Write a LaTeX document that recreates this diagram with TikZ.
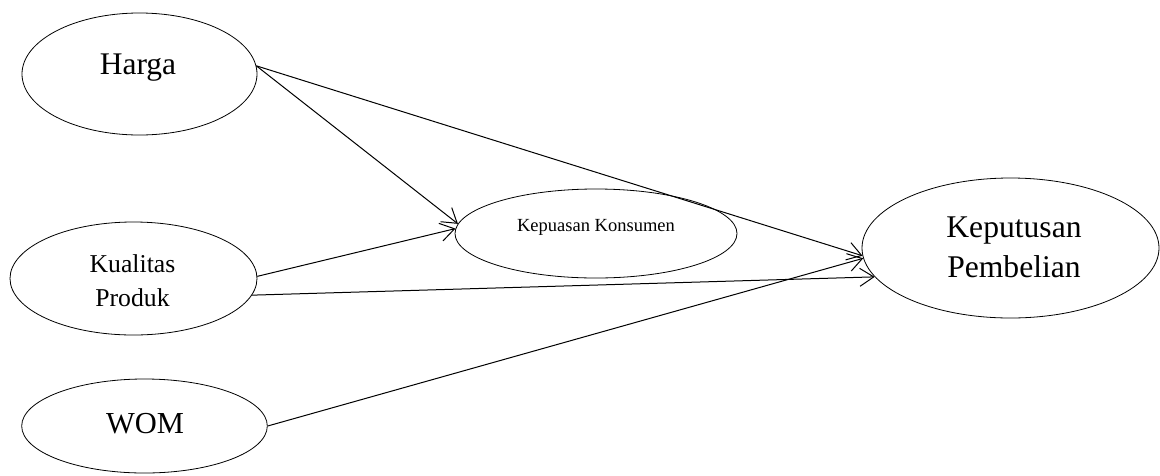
\documentclass[tikz,border=0pt]{standalone}
\usepackage{fontspec}
\setmainfont{Liberation Serif}
\usetikzlibrary{shapes.geometric,arrows.meta}
\begin{document}
\begin{tikzpicture}[x=1pt,y=-1pt,
  var/.style={ellipse, draw, line width=0.8pt, inner sep=0pt},
  lbl/.style={inner sep=0pt, align=center},
  conn/.style={line width=1pt, -{Straight Barb[length=14pt,width=18pt,line width=1pt]}}]
\useasboundingbox (0,0) rectangle (1160,475);
\node[var, minimum width=235pt, minimum height=122pt] (harga) at (139.5,74) {};
\node[lbl, anchor=base, font=\fontsize{31.5}{36}\selectfont] (hargaT) at (138,74) {Harga};
\node[var, minimum width=247pt, minimum height=113pt] (kualitas) at (133.5,278.5) {};
\node[lbl, font=\fontsize{25.7}{34}\selectfont] (kualitasT) at (132.5,281) {Kualitas\\Produk};
\node[var, minimum width=245.6pt, minimum height=94pt] (wom) at (144.5,426) {};
\node[lbl, anchor=base, font=\fontsize{30.5}{35}\selectfont] (womT) at (145,433) {WOM};
\node[var, minimum width=282pt, minimum height=89pt] (kepuasan) at (596,233.5) {};
\node[lbl, anchor=base, font=\fontsize{18.5}{22}\selectfont] (kepuasanT) at (596,231) {Kepuasan Konsumen};
\node[var, minimum width=297pt, minimum height=140pt] (keputusan) at (1010.5,248) {};
\node[lbl, font=\fontsize{31.6}{40}\selectfont] (keputusanT) at (1014,247) {Keputusan\\Pembelian};
\draw[conn] (harga.4) -- (kepuasan.176);
\draw[conn] (harga.4) -- (keputusan.183);
\draw[conn] (kualitas.1) -- (kepuasan.178);
\draw[conn] (kualitas.352) -- (keputusan.192);
\draw[conn] (wom.0) -- (keputusan.184);
\end{tikzpicture}
\end{document}
